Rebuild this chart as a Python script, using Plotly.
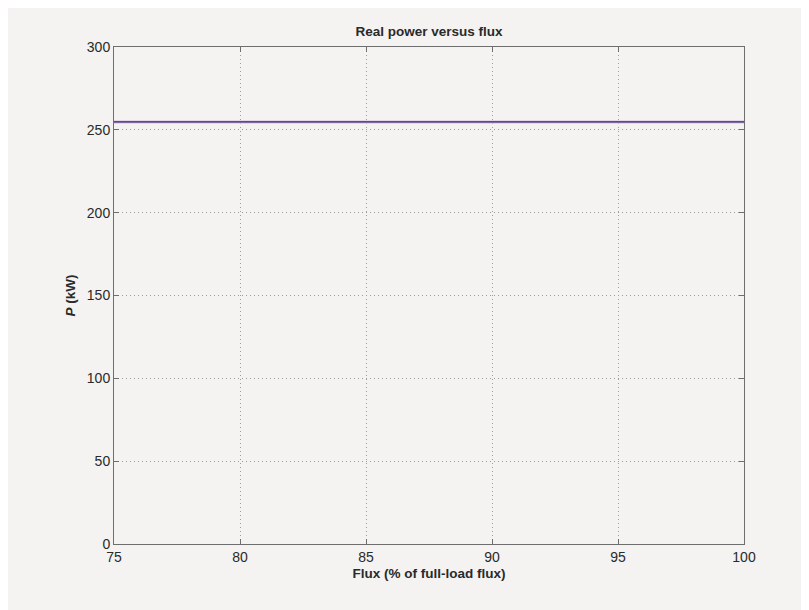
import plotly.graph_objects as go

flux_pct = [75, 80, 85, 90, 95, 100]
power_kw = [254.8, 254.8, 254.8, 254.8, 254.8, 254.8]
x_ticks = [75, 80, 85, 90, 95, 100]
y_ticks = [0, 50, 100, 150, 200, 250, 300]

bg = "#f4f3f1"
font_family = "Liberation Sans, Arial"
fig = go.Figure()
fig.add_trace(go.Scatter(x=flux_pct, y=power_kw, mode="lines",
                         line=dict(color="#dccde6", width=3.5), hoverinfo="skip"))
fig.add_trace(go.Scatter(x=flux_pct, y=power_kw, mode="lines",
                         line=dict(color="#5e4a8a", width=1.8)))

axis_common = dict(showline=True, linecolor="#6e6e6e", linewidth=1, mirror="ticks",
                   ticks="inside", ticklen=5, tickcolor="#6e6e6e",
                   showgrid=True, gridcolor="#9c9c9c", griddash="1px,3px", gridwidth=1,
                   zeroline=False, tickfont=dict(family=font_family, size=14, color="#2a2a2a"))

fig.update_layout(
    width=809, height=610,
    paper_bgcolor=bg, plot_bgcolor=bg,
    margin=dict(l=106, r=73, t=39, b=74),
    showlegend=False,
    title=dict(text="<b>Real power versus flux</b>", x=0.5, xref="paper", xanchor="center",
               y=1 - 23 / 610, yanchor="middle",
               font=dict(family=font_family, size=13.5, color="#2a2a2a")),
    xaxis=dict(range=[75, 100], tickvals=x_ticks, **axis_common,
               title=dict(text="<b>Flux (% of full-load flux)</b>", standoff=4,
                          font=dict(family=font_family, size=13.5, color="#2a2a2a"))),
    yaxis=dict(range=[0, 300], tickvals=y_ticks, **axis_common,
               title=dict(text="<b><i>P</i> (kW)</b>", standoff=8,
                          font=dict(family=font_family, size=13.5, color="#2a2a2a"))),
)
fig.write_html("out.html")
